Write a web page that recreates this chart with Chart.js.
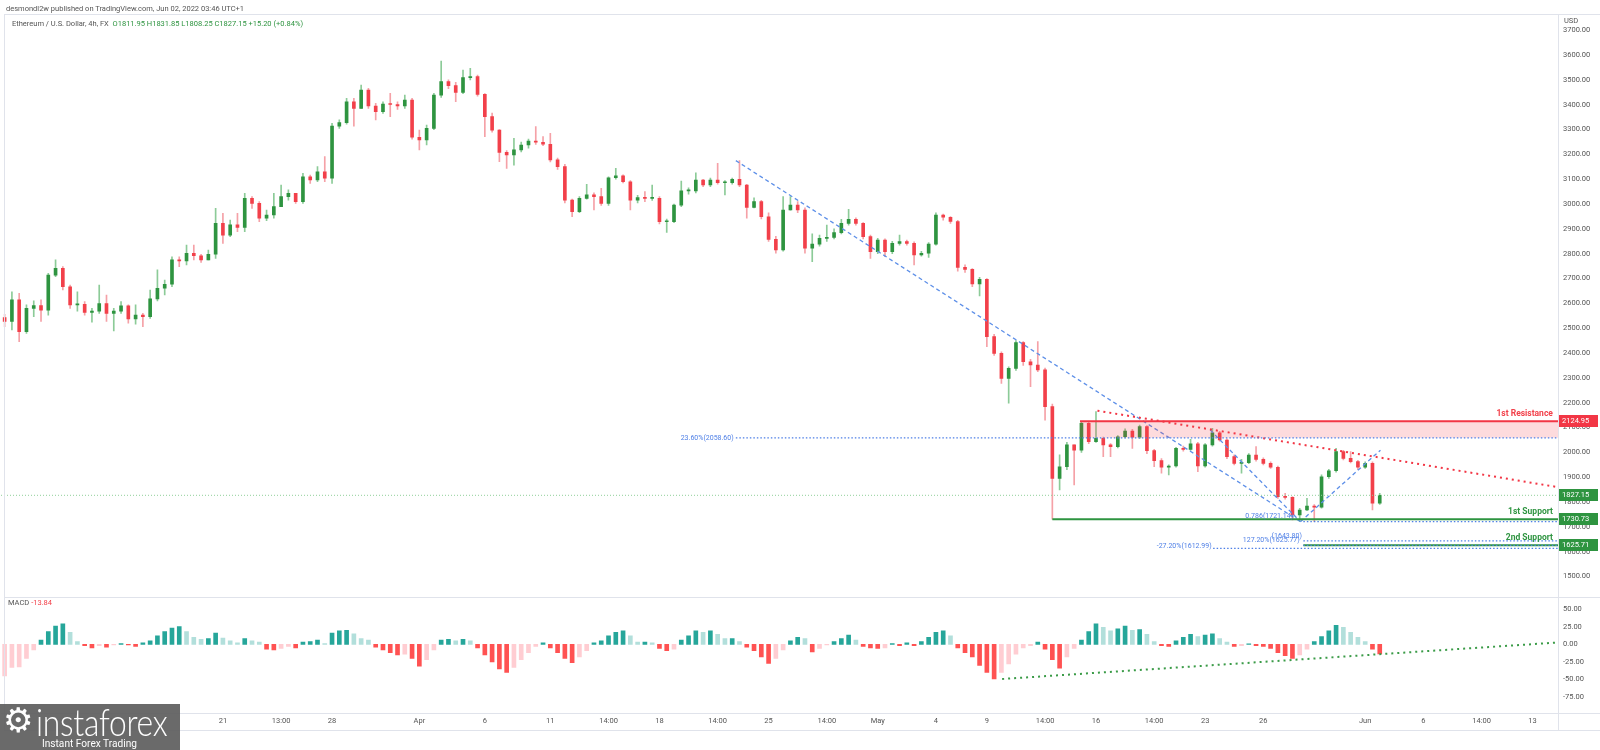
<!DOCTYPE html>
<html>
<head>
<meta charset="utf-8">
<title>ETHUSD 4h</title>
<script src="https://cdn.jsdelivr.net/npm/chart.js@4.4.1/dist/chart.umd.min.js"></script>
<style>
  body { margin: 0; width: 1600px; height: 750px; background: #fff; overflow: hidden; position: relative; font-family: Roboto, "Liberation Sans", sans-serif; }
  canvas { position: absolute; left: 0; }
  #priceChart { top: 0; }
  #macdChart { top: 597px; }
  .hline { position: absolute; height: 1px; background: #e0e3eb; z-index: 2; }
  .vline { position: absolute; width: 1px; background: #e0e3eb; z-index: 2; }
  #pub { position: absolute; left: 6px; top: 4px; font-size: 7.5px; color: #555; z-index: 3; }
  #sym { position: absolute; left: 12px; top: 19px; font-size: 7.5px; color: #555; z-index: 3; }
  #sym .up { color: #2e9440; }
  #macdLabel { position: absolute; left: 8px; top: 598px; font-size: 7.5px; color: #555; z-index: 3; }
  #macdLabel .dn { color: #f2404a; }
  #usd { position: absolute; left: 1564px; top: 16px; font-size: 7.5px; color: #555; z-index: 3; }
  #logo { position: absolute; left: 0; top: 704px; width: 180px; height: 46px; background: rgba(95, 95, 95, 0.93); color: #fff; z-index: 4; overflow: hidden; }
  #logo .gear { position: absolute; left: 3px; top: -4px; font-size: 34px; font-family: "DejaVu Sans", sans-serif; }
  #logo .brand { position: absolute; left: 36px; top: -5px; font-size: 37px; font-weight: 300; font-family: Lato, "Open Sans", sans-serif; transform: scaleX(0.86); transform-origin: left top; letter-spacing: -0.3px; }
  #logo .tag { position: absolute; left: 42px; top: 32px; font-size: 11.5px; font-family: Roboto, sans-serif; transform: scaleX(0.88); transform-origin: left top; }
</style>
</head>
<body>
<div id="pub">desmondl2w published on TradingView.com, Jun 02, 2022 03:46 UTC+1</div>
<div id="sym">Ethereum / U.S. Dollar, 4h, FX&nbsp; <span class="up">O1811.95 H1831.85 L1808.25 C1827.15 +15.20 (+0.84%)</span></div>
<div id="usd">USD</div>
<canvas id="priceChart" width="1600" height="597"></canvas>
<canvas id="macdChart" width="1600" height="153"></canvas>
<div id="macdLabel">MACD <span class="dn">-13.84</span></div>
<div class="hline" style="left:4px;width:1596px;top:14px"></div>
<div class="hline" style="left:4px;width:1596px;top:597px"></div>
<div class="hline" style="left:4px;width:1596px;top:713px"></div>
<div class="hline" style="left:4px;width:1596px;top:730px"></div>
<div class="vline" style="left:4px;top:14px;height:716px"></div>
<div class="vline" style="left:1558px;top:14px;height:716px"></div>
<div id="logo"><span class="gear">⚙</span><span class="brand">instaforex</span><span class="tag">Instant Forex Trading</span></div>

<script>
// each candle slot = 8 hours of trading time, slot 0 = Mar 7
const slotCount = 214;
const firstOpen = 2543;

const closes = [
  2527, 2614, 2486, 2580, 2591, 2573, 2714, 2741, 2667, 2594,
  2596, 2564, 2569, 2599, 2560, 2569, 2590, 2537, 2553, 2547,
  2618, 2661, 2677, 2775, 2771, 2802, 2792, 2775, 2798, 2922,
  2875, 2916, 2906, 3023, 3003, 2943, 2956, 2990, 3030, 3043,
  3010, 3110, 3097, 3130, 3104, 3314, 3328, 3412, 3385, 3459,
  3395, 3372, 3403, 3401, 3395, 3419, 3269, 3258, 3305, 3439,
  3493, 3477, 3450, 3509, 3513, 3442, 3352, 3298, 3208, 3198,
  3218, 3238, 3254, 3249, 3241, 3178, 3151, 3016, 2969, 3023,
  3037, 3030, 3003, 3106, 3114, 3090, 3016, 3026, 3023, 3023,
  2929, 2929, 2996, 3053, 3053, 3097, 3077, 3097, 3086, 3086,
  3100, 3077, 2987, 3010, 2949, 2858, 2815, 2976, 2996, 2976,
  2822, 2839, 2862, 2866, 2885, 2922, 2939, 2922, 2869, 2808,
  2855, 2808, 2842, 2849, 2842, 2795, 2802, 2839, 2956, 2947,
  2930, 2745, 2737, 2678, 2697, 2466, 2399, 2298, 2338, 2442,
  2365, 2352, 2332, 2184, 1895, 1942, 2030, 2009, 2117, 2043,
  2057, 2030, 2023, 2063, 2086, 2061, 2104, 2007, 1967, 1940,
  1945, 2016, 2012, 2034, 1945, 2030, 2079, 2050, 1983, 1956,
  1959, 1989, 1972, 1956, 1940, 1822, 1819, 1748, 1768, 1784,
  1779, 1902, 1926, 2003, 1976, 1963, 1940, 1956, 1795, 1827.15
];
const highs = [
  2556, 2647, 2641, 2594, 2610, 2614, 2721, 2775, 2748, 2674,
  2647, 2607, 2580, 2674, 2634, 2580, 2607, 2594, 2594, 2560,
  2654, 2735, 2694, 2788, 2788, 2835, 2835, 2798, 2815, 2983,
  2963, 2936, 2963, 3043, 3030, 3010, 2976, 3043, 3077, 3057,
  3043, 3124, 3117, 3151, 3191, 3325, 3339, 3426, 3426, 3479,
  3466, 3406, 3412, 3446, 3412, 3439, 3426, 3298, 3318, 3446,
  3576, 3500, 3490, 3540, 3547, 3520, 3445, 3366, 3300, 3215,
  3265, 3250, 3262, 3312, 3272, 3285, 3185, 3160, 3020, 3030,
  3080, 3045, 3063, 3110, 3144, 3118, 3095, 3035, 3050, 3077,
  3030, 2940, 3000, 3093, 3065, 3126, 3100, 3105, 3164, 3095,
  3105, 3175, 3080, 3025, 3015, 2965, 2870, 3030, 3030, 3010,
  2985, 2880, 2875, 2915, 2900, 2939, 2979, 2945, 2925, 2875,
  2862, 2860, 2850, 2875, 2855, 2848, 2810, 2845, 2965, 2960,
  2950, 2935, 2755, 2740, 2705, 2700, 2475, 2405, 2345, 2450,
  2446, 2375, 2446, 2340, 2195, 1990, 2040, 2025, 2125, 2125,
  2164, 2062, 2035, 2068, 2095, 2093, 2110, 2108, 2012, 1975,
  1950, 2020, 2025, 2053, 2040, 2035, 2097, 2085, 2055, 1990,
  1972, 1995, 2023, 1978, 1962, 1945, 1835, 1822, 1775, 1815,
  1790, 1910, 1932, 2016, 2008, 2003, 1968, 1962, 1962, 1835
];
const lows = [
  2506, 2493, 2446, 2479, 2547, 2527, 2553, 2708, 2654, 2580,
  2569, 2553, 2524, 2560, 2527, 2489, 2560, 2520, 2516, 2506,
  2540, 2610, 2634, 2667, 2748, 2755, 2775, 2765, 2775, 2781,
  2842, 2869, 2889, 2889, 2983, 2929, 2933, 2943, 2990, 3016,
  3003, 3003, 3083, 3090, 3090, 3083, 3305, 3322, 3314, 3385,
  3385, 3339, 3365, 3352, 3381, 3385, 3261, 3218, 3238, 3300,
  3430, 3465, 3412, 3445, 3500, 3435, 3271, 3290, 3171, 3144,
  3157, 3210, 3225, 3240, 3235, 3170, 3140, 3005, 2949, 2965,
  3020, 2976, 2995, 2995, 3100, 3085, 2976, 3005, 3010, 3015,
  2920, 2886, 2925, 2990, 3040, 3045, 3070, 3070, 3080, 3037,
  3080, 3070, 2943, 2985, 2940, 2850, 2802, 2810, 2975, 2965,
  2802, 2768, 2830, 2850, 2860, 2880, 2915, 2915, 2860, 2781,
  2800, 2788, 2800, 2835, 2835, 2755, 2790, 2785, 2835, 2935,
  2922, 2730, 2725, 2667, 2630, 2426, 2390, 2278, 2198, 2330,
  2350, 2265, 2325, 2130, 1730.73, 1849, 1930, 1869, 2000, 2035,
  2040, 1983, 1983, 2018, 2058, 2016, 2055, 1995, 1942, 1916,
  1909, 1940, 2005, 2008, 1922, 1940, 2025, 2045, 1975, 1950,
  1916, 1955, 1965, 1950, 1935, 1815, 1812, 1728, 1721, 1765,
  1721, 1775, 1895, 1920, 1970, 1958, 1930, 1935, 1768, 1790
];
const macdHist = [
  -45, -33, -32, -20, -8, 6, 18, 26, 29, 17,
  4, -2, -5, -2, -4, -1, 1, -1, -3, 2,
  5, 12, 18, 23, 25, 18, 10, 7, 8, 16,
  9, 5, 2, 8, 5, 3, -7, -8, -6, -3,
  -5, 3, 4, 6, 1, 16, 19, 20, 15, 8,
  6, -4, -8, -12, -15, -14, -20, -31, -22, -8,
  6, 7, 5, 7, 5, -5, -15, -25, -35, -40,
  -33, -22, -12, -3, 2, -5, -12, -20, -26, -18,
  -9, 2, 5, 12, 17, 19, 12, 3, 3, 2,
  -6, -9, -7, 6, 12, 19, 17, 19, 14, 8,
  8, 4, -4, -9, -18, -27, -20, -8, 5, 10,
  8, -11, -6, -1, 4, 8, 13, 6, -3, -5,
  -6, -5, 1, -2, 2, -2, 4, 10, 17, 19,
  12, -5, -12, -18, -30, -40, -49, -40, -28, -14,
  -5, -2, 3, -7, -22, -34, -18, -6, 6, 18,
  29, 24, 19, 22, 26, 20, 21, 14, 4, -2,
  -3, 5, 10, 14, 11, 13, 15, 8, 3, -3,
  -2, 0.5, -2, -3, -6, -12, -16, -20, -15, -7,
  4, 11, 19, 27, 24, 17, 10, 4, -7, -13.84
];

const priceTicks = [1500, 1600, 1700, 1800, 1900, 2000, 2100, 2200, 2300, 2400, 2500, 2600,
  2700, 2800, 2900, 3000, 3100, 3200, 3300, 3400, 3500, 3600, 3700];
const macdTicks = [50, 25, 0, -25, -50, -75];
const xTickSlots = [15, 30, 38, 45, 57, 66, 75, 83, 90, 98, 105, 113, 120, 128, 135, 143, 150, 158, 165, 173, 187, 195, 203, 210];
const xTickLabels = ['14', '21', '13:00', '28', 'Apr', '6', '11', '14:00', '18', '14:00', '25', '14:00', 'May',
  '4', '9', '14:00', '16', '14:00', '23', '26', 'Jun', '6', '14:00', '13'];

// levels drawn on the chart
const resistance = 2124.95;
const support1 = 1730.73;
const support2 = 1625.71;
const lastClose = 1827.15;
const fib236 = 2058.60;
const fib786 = 1721.14;
const fib1618 = 1643.80;
const fib1272 = 1625.77;
const fibNeg272 = 1612.99;

const red = '#f2404a';
const green = '#2e9440';
const blue = '#4e7fe6';
const frameColor = '#e0e3eb';
const axisWidth = 42;
const lastSlot = slotCount - 0.5;

Chart.defaults.font.family = 'Roboto, "Liberation Sans", sans-serif';

const opens = closes.map((c, i) => i === 0 ? firstOpen : closes[i - 1]);
const isUp = closes.map((c, i) => c >= opens[i]);
const bodies = closes.map((c, i) => ({ x: i, y: [opens[i], c] }));
const wicks = closes.map((c, i) => ({
  x: i,
  y: [Math.min(lows[i], opens[i], c), Math.max(highs[i], opens[i], c)]
}));

function seg(x1, y1, x2, y2, color, dash, width, extra) {
  return Object.assign({
    type: 'line',
    data: [{ x: x1, y: y1 }, { x: x2, y: y2 }],
    borderColor: color,
    borderDash: dash,
    borderWidth: width,
    pointRadius: 0,
    fill: false,
    order: -1
  }, extra || {});
}

// text next to the levels, anchored on slot / price
const notes = [
  { text: '1st Resistance', slot: 212.8, price: resistance, color: red, font: 'bold 8.5px Roboto', baseline: 'bottom', dy: -3 },
  { text: '1st Support', slot: 212.8, price: support1, color: green, font: 'bold 8.5px Roboto', baseline: 'bottom', dy: -3 },
  { text: '2nd Support', slot: 212.8, price: support2, color: green, font: 'bold 8.5px Roboto', baseline: 'bottom', dy: -3 },
  { text: '23.60%(2058.60)', slot: 100.2, price: fib236, color: blue, font: '7px Roboto', baseline: 'middle', dy: 0 },
  { text: '0.786(1721.14)', slot: 177.1, price: fib786, color: blue, font: '7px Roboto', baseline: 'middle', dy: -5 },
  { text: '(1643.80)', slot: 178.3, price: fib1618, color: blue, font: '7px Roboto', baseline: 'middle', dy: -5 },
  { text: '127.20%(1625.77)', slot: 178.0, price: fib1272, color: blue, font: '7px Roboto', baseline: 'middle', dy: -5 },
  { text: '-27.20%(1612.99)', slot: 165.9, price: fibNeg272, color: blue, font: '7px Roboto', baseline: 'middle', dy: -2 }
];
const axisTags = [
  { price: resistance, color: '#f23645' },
  { price: lastClose, color: green },
  { price: support1, color: green },
  { price: support2, color: green }
];

const priceNotes = {
  id: 'priceNotes',
  afterDraw(chart) {
    const { ctx, chartArea, scales: { x, y } } = chart;
    ctx.save();
    ctx.textAlign = 'right';
    notes.forEach(n => {
      ctx.font = n.font;
      ctx.fillStyle = n.color;
      ctx.textBaseline = n.baseline;
      ctx.fillText(n.text, x.getPixelForValue(n.slot), y.getPixelForValue(n.price) + n.dy);
    });
    ctx.textAlign = 'left';
    ctx.textBaseline = 'middle';
    ctx.font = '7.5px Roboto';
    axisTags.forEach(t => {
      const py = Math.round(y.getPixelForValue(t.price));
      ctx.fillStyle = t.color;
      ctx.fillRect(chartArea.right, py - 6, axisWidth - 2, 12);
      ctx.fillStyle = '#fff';
      ctx.fillText(t.price.toFixed(2), chartArea.right + 4, py + 0.5);
    });
    ctx.restore();
  }
};

const priceChart = new Chart(document.getElementById('priceChart'), {
  type: 'bar',
  data: {
    datasets: [
      // trend and level drawings
      seg(-0.5, lastClose, lastSlot, lastClose, '#8fcf99', [1, 2], 1),
      seg(100.5, fib236, lastSlot, fib236, blue, [1.5, 2], 1.3),
      seg(147.8, resistance, lastSlot, resistance, '#f23645', [], 2,
        { fill: { value: fib236 }, backgroundColor: 'rgba(242, 54, 69, 0.18)' }),
      seg(144, support1, lastSlot, support1, green, [], 2),
      seg(178.5, fib786, lastSlot, fib786, blue, [1.5, 2], 1.3),
      seg(178.5, fib1618, lastSlot, fib1618, blue, [1.5, 2], 1.3),
      seg(178.5, fib1272, lastSlot, fib1272, blue, [1.5, 2], 1.3),
      seg(166.1, fibNeg272, lastSlot, fibNeg272, blue, [1.5, 2], 1.3),
      seg(178.5, support2, lastSlot, support2, green, [], 2),
      seg(150.2, 2168, lastSlot, 1860, '#f23645', [2, 4], 2),
      seg(100.5, 3175, 178.1, 1721, '#5d8fe8', [4, 3], 1.3),
      seg(165.7, 2090, 178.1, 1721, '#5d8fe8', [4, 3], 1.3),
      seg(178.1, 1721, 189.1, 2009, '#5d8fe8', [4, 3], 1.3),
      {
        label: 'body',
        data: bodies,
        backgroundColor: isUp.map(u => u ? green : red),
        barThickness: 3,
        minBarLength: 1,
        grouped: false,
        order: 0
      },
      {
        label: 'wick',
        data: wicks,
        backgroundColor: isUp.map(u => u ? '#8ccb98' : '#f5a1a7'),
        barThickness: 1,
        grouped: false,
        order: 1
      }
    ]
  },
  options: {
    responsive: false,
    animation: false,
    layout: { padding: { top: 14, bottom: 0, left: 0, right: 0 } },
    plugins: { legend: { display: false }, tooltip: { enabled: false } },
    scales: {
      x: { type: 'linear', min: -0.5, max: lastSlot, offset: false, display: false },
      y: {
        position: 'right',
        min: 1417, max: 3766,
        afterBuildTicks: s => { s.ticks = priceTicks.map(v => ({ value: v })); },
        afterFit: s => { s.width = axisWidth; },
        grid: { display: false, drawTicks: false },
        border: { display: true, color: frameColor },
        ticks: { callback: v => Number(v).toFixed(2), color: '#555', font: { size: 7.5 }, padding: 5 }
      }
    }
  },
  plugins: [priceNotes]
});

const macdChart = new Chart(document.getElementById('macdChart'), {
  type: 'bar',
  data: {
    datasets: [
      seg(137.1, -49.3, 213.1, 2.3, '#3a9b47', [2, 4], 2),
      {
        label: 'MACD',
        data: macdHist.map((v, i) => ({ x: i, y: v })),
        backgroundColor: macdHist.map((v, i) => {
          const prev = i === 0 ? v : macdHist[i - 1];
          if (v >= 0) return v >= prev ? '#26a69a' : '#b2dfdb';
          return v < prev ? '#ff5252' : '#ffcdd2';
        }),
        barThickness: 4,
        grouped: false,
        order: 0
      }
    ]
  },
  options: {
    responsive: false,
    animation: false,
    layout: { padding: { top: 0, bottom: 20, left: 0, right: 0 } },
    plugins: { legend: { display: false }, tooltip: { enabled: false } },
    scales: {
      x: {
        type: 'linear', min: -0.5, max: lastSlot, offset: false,
        afterBuildTicks: s => { s.ticks = xTickSlots.map(v => ({ value: v })); },
        afterFit: s => { s.height = 17; },
        grid: { display: false, drawTicks: false },
        border: { display: true, color: frameColor },
        ticks: {
          autoSkip: false, maxRotation: 0, padding: 4, color: '#555', font: { size: 7.5 },
          callback: v => xTickLabels[xTickSlots.indexOf(v)]
        }
      },
      y: {
        position: 'right',
        min: -97, max: 66,
        afterBuildTicks: s => { s.ticks = macdTicks.map(v => ({ value: v })); },
        afterFit: s => { s.width = axisWidth; },
        grid: { display: false, drawTicks: false },
        border: { display: true, color: frameColor },
        ticks: { callback: v => Number(v).toFixed(2), color: '#555', font: { size: 7.5 }, padding: 5 }
      }
    }
  }
});

// pin the value scales to the reference's pixel mapping
function pinScale(chart, refValue, refPixel, pxPerUnit) {
  const area = chart.chartArea;
  const opts = chart.options.scales.y;
  opts.max = refValue + (refPixel - area.top) / pxPerUnit;
  opts.min = refValue - (area.bottom - refPixel) / pxPerUnit;
  chart.update('none');
}
pinScale(priceChart, 3600, 55.1, 0.2483);
pinScale(macdChart, 0, 644.3 - 597, 0.704);
</script>
</body>
</html>
